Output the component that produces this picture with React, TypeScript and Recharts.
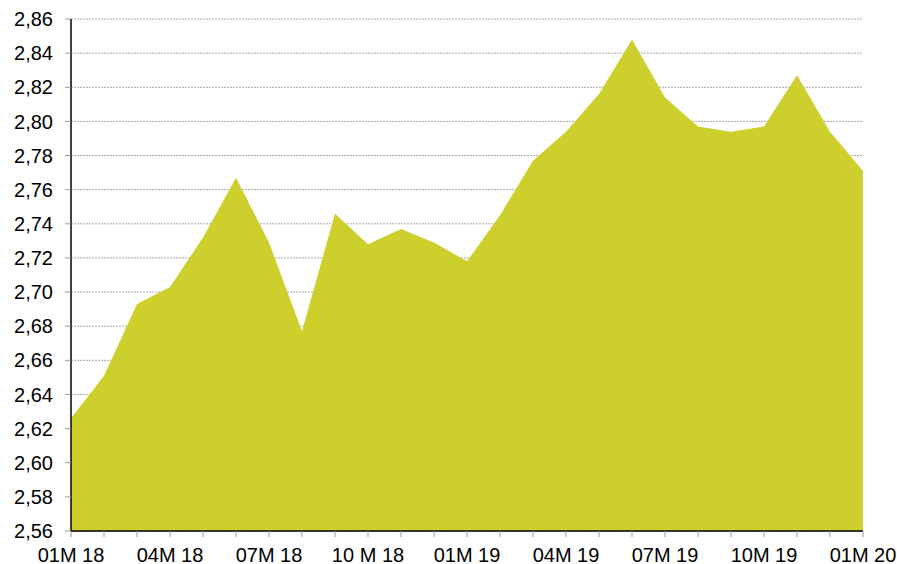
import React from "react";
import { AreaChart, Area, XAxis, YAxis, CartesianGrid } from "recharts";

const months = [
  "01M 18", "02M 18", "03M 18", "04M 18", "05M 18", "06M 18", "07M 18", "08M 18", "09M 18",
  "10 M 18", "11M 18", "12M 18", "01M 19", "02M 19", "03M 19", "04M 19", "05M 19", "06M 19",
  "07M 19", "08M 19", "09M 19", "10M 19", "11M 19", "12M 19", "01M 20",
];

const values = [
  2.626, 2.651, 2.693, 2.703, 2.732, 2.767, 2.729, 2.677, 2.746, 2.728, 2.737, 2.729, 2.718,
  2.745, 2.777, 2.794, 2.816, 2.848, 2.814, 2.797, 2.794, 2.797, 2.827, 2.794, 2.771,
];

const yTicks = [2.56, 2.58, 2.6, 2.62, 2.64, 2.66, 2.68, 2.7, 2.72, 2.74, 2.76, 2.78, 2.8, 2.82, 2.84, 2.86];

const data = months.map((m, i) => ({ month: m, value: values[i] }));

const FONT = "'Liberation Sans', Arial, sans-serif";

const XTick = (props: any) => {
  const { x, y, payload, index } = props;
  if (index % 3 !== 0) return null;
  return (
    <text x={x} y={y} dy="0.71em" textAnchor="middle" fill="#000" fontSize={20} fontFamily={FONT}>
      {payload.value}
    </text>
  );
};

export default function App() {
  return (
    <div style={{ position: "absolute", left: 0, top: 0, background: "#fff" }}>
      <AreaChart
        width={897}
        height={564}
        data={data}
        margin={{ top: 19, right: 34, bottom: 0, left: 0 }}
      >
        <CartesianGrid
          horizontal={true}
          vertical={false}
          stroke="#aaaaaa"
          strokeDasharray="2 1"
        />
        <Area
          type="linear"
          dataKey="value"
          stroke="none"
          fill="#CDCF2D"
          fillOpacity={1}
          isAnimationActive={false}
          dot={false}
          activeDot={false}
        />
        <XAxis
          dataKey="month"
          interval={0}
          height={33}
          axisLine={{ stroke: "#000", strokeWidth: 1.5 }}
          tickLine={{ stroke: "#999" }}
          tickSize={6}
          tickMargin={11}
          tick={<XTick />}
        />
        <YAxis
          domain={[2.56, 2.86]}
          ticks={yTicks}
          width={71}
          interval={0}
          axisLine={{ stroke: "#000", strokeWidth: 1.5 }}
          tickLine={{ stroke: "#999" }}
          tickSize={6}
          tickMargin={12}
          tick={{ fill: "#000", fontSize: 20, fontFamily: FONT }}
          tickFormatter={(v: number) => v.toFixed(2).replace(".", ",")}
        />
      </AreaChart>
    </div>
  );
}
